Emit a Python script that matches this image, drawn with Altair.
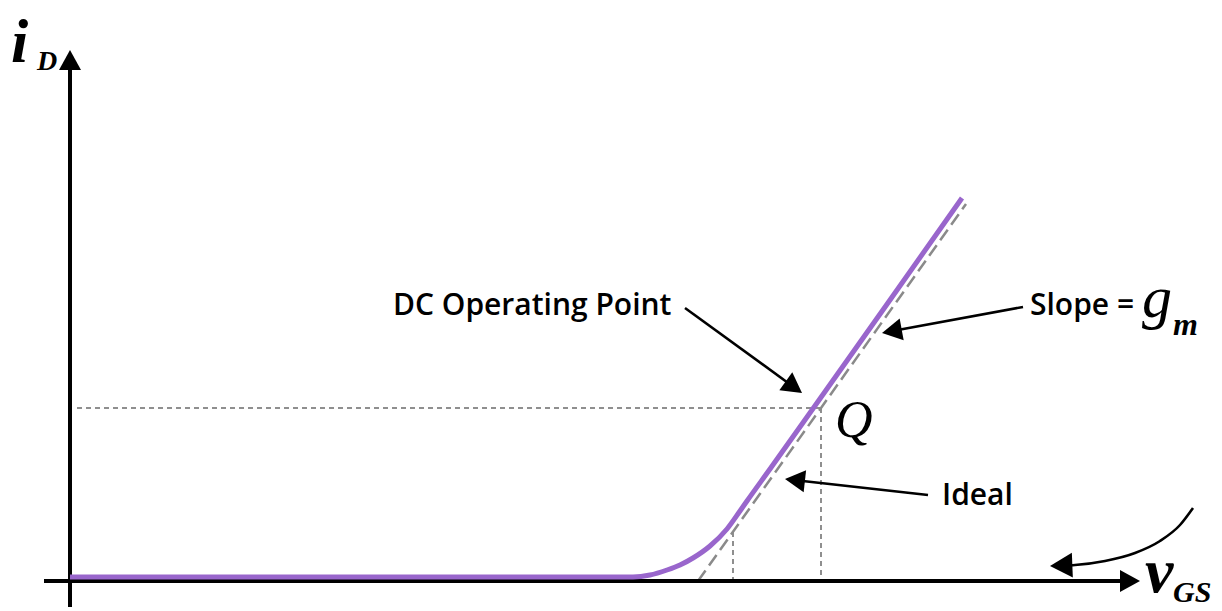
import math

import altair as alt
import pandas as pd

# ---- data (plot units: 1 unit = 100 px on both axes, origin at the axes' corner) ----

# MOSFET transfer characteristic i_D vs v_GS
curve_v = [0.00, 5.50, 5.63, 5.80, 5.97, 6.10, 6.23, 6.40, 6.57, 6.70, 6.77, 7.00, 7.42, 8.20, 8.92]
curve_i = [0.04, 0.04, 0.04, 0.06, 0.11, 0.16, 0.23, 0.35, 0.52, 0.70, 0.80, 1.12, 1.71, 2.81, 3.83]

# ideal straight-line model (tangent with slope g_m)
ideal_v = [6.28, 8.96]
ideal_i = [0.00, 3.77]

# DC operating point Q and guide lines
q_v, q_i = 7.51, 1.73
guide_x0 = 0.07
foot_v, foot_i = 6.63, 0.49

# axes: start of shaft, arrow tip
x_axis = {"start": -0.26, "tip": 10.70}
y_axis = {"start": -0.26, "tip": 5.31}

# annotation arrows: label, start (v, i), tip (v, i)
arrow_names = ["DC Operating Point", "Slope", "Ideal"]
arrow_start = [(6.15, 2.73), (9.53, 2.74), (8.58, 0.86)]
arrow_tip = [(7.32, 1.88), (8.12, 2.48), (7.15, 1.02)]

# curved arrow near the v_GS axis (drawn from its tail to its tip)
sweep_v = [11.23, 11.10, 10.90, 10.65, 10.35, 10.05, 9.80]
sweep_i = [0.73, 0.56, 0.40, 0.28, 0.20, 0.16, 0.15]

# labels
note_text = ["DC Operating Point", "Slope =", "Ideal"]
note_v = [3.23, 9.60, 8.72]
note_i = [2.66, 2.66, 0.76]

HEAD_LEN = 0.19      # arrowhead length, plot units
AXIS_HEAD_LEN = 0.20

# ---- helpers ----

def head_angle(v0, i0, v1, i1):
    """Clockwise rotation (deg) of an upward-pointing head so it points from p0 to p1."""
    return math.degrees(math.atan2(v1 - v0, i1 - i0)) % 360


def shorten(v0, i0, v1, i1, d):
    L = math.hypot(v1 - v0, i1 - i0)
    return v1 - (v1 - v0) * d / L, i1 - (i1 - i0) * d / L


X = alt.X("x:Q", scale=alt.Scale(domain=[-0.70, 11.52], nice=False, zero=False), axis=None)
Y = alt.Y("y:Q", scale=alt.Scale(domain=[-0.30, 5.81], nice=False, zero=False), axis=None)

# axes shafts
axes_rows = [
    {"x": x_axis["start"], "y": 0, "g": "x", "k": 0},
    {"x": x_axis["tip"] - AXIS_HEAD_LEN * 0.9, "y": 0, "g": "x", "k": 1},
    {"x": 0, "y": y_axis["start"], "g": "y", "k": 0},
    {"x": 0, "y": y_axis["tip"] - AXIS_HEAD_LEN * 0.9, "g": "y", "k": 1},
]
axes_layer = alt.Chart(pd.DataFrame(axes_rows)).mark_line(
    color="black", strokeWidth=4, strokeCap="butt"
).encode(x=X, y=Y, detail="g:N", order="k:Q")

# guide lines to Q and to the foot of the ideal line
guide_rows = [
    {"x": guide_x0, "y": q_i, "g": "h", "k": 0},
    {"x": q_v, "y": q_i, "g": "h", "k": 1},
    {"x": q_v, "y": q_i, "g": "vq", "k": 0},
    {"x": q_v, "y": 0, "g": "vq", "k": 1},
    {"x": foot_v, "y": foot_i, "g": "vf", "k": 0},
    {"x": foot_v, "y": 0, "g": "vf", "k": 1},
]
guide_layer = alt.Chart(pd.DataFrame(guide_rows)).mark_line(
    color="#8f8f8f", strokeWidth=2, strokeDash=[5, 4]
).encode(x=X, y=Y, detail="g:N", order="k:Q")

# ideal line
ideal_layer = alt.Chart(pd.DataFrame({"x": ideal_v, "y": ideal_i, "k": [0, 1]})).mark_line(
    color="#8a8a8a", strokeWidth=2.5, strokeDash=[13, 6]
).encode(x=X, y=Y, order="k:Q")

# transfer curve
curve_layer = alt.Chart(
    pd.DataFrame({"x": curve_v, "y": curve_i, "k": list(range(len(curve_v)))})
).mark_line(color="#9966cc", strokeWidth=5, interpolate="monotone", strokeCap="butt").encode(
    x=X, y=Y, order="k:Q"
)

# straight annotation arrows
arrow_rows = []
head_rows = []
for name, (v0, i0), (v1, i1) in zip(arrow_names, arrow_start, arrow_tip):
    ve, ie = shorten(v0, i0, v1, i1, HEAD_LEN * 0.7)
    arrow_rows += [{"x": v0, "y": i0, "g": name, "k": 0}, {"x": ve, "y": ie, "g": name, "k": 1}]
    head_rows.append({"x": v1, "y": i1, "angle": head_angle(v0, i0, v1, i1), "s": 1600})

# curved arrow
sv_end, si_end = shorten(sweep_v[-2], sweep_i[-2], sweep_v[-1], sweep_i[-1], HEAD_LEN * 0.7)
for k, (v, i) in enumerate(zip(sweep_v[:-1] + [sv_end], sweep_i[:-1] + [si_end])):
    arrow_rows.append({"x": v, "y": i, "g": "sweep", "k": k})
head_rows.append({
    "x": sweep_v[-1], "y": sweep_i[-1],
    "angle": head_angle(sweep_v[-2], sweep_i[-2], sweep_v[-1], sweep_i[-1]),
    "s": 2000,
})

# axis arrowheads
head_rows.append({"x": x_axis["tip"], "y": 0, "angle": 90.0, "s": 1600})
head_rows.append({"x": 0, "y": y_axis["tip"], "angle": 0.0, "s": 1600})

arrow_layer = alt.Chart(pd.DataFrame(arrow_rows)).mark_line(
    color="black", strokeWidth=2.6, interpolate="monotone"
).encode(x=X, y=Y, detail="g:N", order="k:Q")

# arrowhead: tip at the symbol origin, pointing up before rotation
head_layer = alt.Chart(pd.DataFrame(head_rows)).mark_point(
    shape="M0,0L-0.55,1L0.55,1Z", filled=True, color="black", opacity=1, strokeWidth=0
).encode(
    x=X, y=Y,
    angle=alt.Angle("angle:Q", scale=None),
    size=alt.Size("s:Q", scale=None),
)

# annotation labels
notes_layer = alt.Chart(pd.DataFrame({"x": note_v, "y": note_i, "t": note_text})).mark_text(
    align="left", baseline="alphabetic", font="Open Sans", fontSize=30, fontWeight=600, color="black"
).encode(x=X, y=Y, text="t:N")


def math_label(text, v, i, size, bold=True):
    return alt.Chart(pd.DataFrame({"x": [v], "y": [i], "t": [text]})).mark_text(
        align="left", baseline="alphabetic", font="Liberation Serif", fontSize=size,
        fontStyle="italic", fontWeight="bold" if bold else "normal", color="black"
    ).encode(x=X, y=Y, text="t:N")


labels = [
    math_label("i", -0.59, 5.19, 62),
    math_label("D", -0.33, 5.11, 28),
    math_label("v", 10.75, -0.11, 64),
    math_label("GS", 11.03, -0.21, 30),
    math_label("Q", 7.65, 1.44, 52, bold=False),
    math_label("g", 10.72, 2.64, 60, bold=False),
    math_label("m", 11.03, 2.46, 32),
]

chart = alt.layer(
    guide_layer, ideal_layer, axes_layer, curve_layer, arrow_layer, head_layer, notes_layer, *labels
).properties(
    width=1222, height=611, padding=0, autosize=alt.AutoSizeParams(type="none"),
    background="white",
).configure_view(stroke=None)

chart.save("out.html", embed_options={"renderer": "svg", "actions": False})
